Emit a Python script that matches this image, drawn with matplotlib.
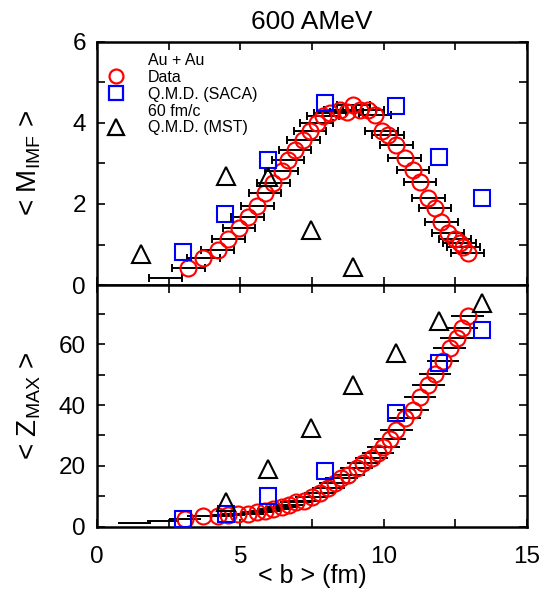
import matplotlib
matplotlib.use("Agg")
import matplotlib.pyplot as plt
from matplotlib.lines import Line2D
from matplotlib.ticker import MultipleLocator

plt.rcParams['font.family'] = ['Liberation Sans', 'DejaVu Sans']
plt.rcParams['mathtext.fontset'] = 'custom'
plt.rcParams['mathtext.rm'] = 'Liberation Sans'
plt.rcParams['mathtext.it'] = 'Liberation Sans:italic'

# -------------------------------
# Data: <M_IMF> vs <b>
# -------------------------------
b_imf = [3.19, 3.71, 4.21, 4.58, 4.95, 5.26, 5.59, 5.86, 6.15, 6.44, 6.67, 6.91,
         7.20, 7.43, 7.66, 7.89, 8.13, 8.48, 8.71, 8.94, 9.17, 9.46, 9.70, 9.93,
         10.16, 10.45, 10.74, 11.03, 11.27, 11.56, 11.79, 12.02, 12.25, 12.49,
         12.66, 12.78, 12.93]
m_imf = [0.43, 0.67, 0.86, 1.13, 1.40, 1.69, 1.95, 2.26, 2.53, 2.82, 3.09, 3.33,
         3.58, 3.81, 3.99, 4.16, 4.24, 4.32, 4.28, 4.44, 4.32, 4.32, 4.20, 3.79,
         3.70, 3.46, 3.13, 2.84, 2.55, 2.14, 1.89, 1.56, 1.28, 1.13,
         1.03, 0.95, 0.80]
b_imf_extra = [2.4]
m_imf_extra = [0.18]

b_qmd = [2.99, 4.47, 5.98, 7.95, 10.45, 11.93, 13.42]
m_saca = [0.82, 1.75, 3.09, 4.49, 4.42, 3.15, 2.16]
b_mst = [1.52, 4.50, 5.98, 7.46, 8.94]
m_mst = [0.77, 2.69, 2.67, 1.37, 0.44]

# -------------------------------
# Data: <Z_MAX> vs <b>
# -------------------------------
b_z = [3.07, 3.71, 4.21, 4.58, 4.93, 5.26, 5.59, 5.86, 6.15, 6.44, 6.70, 6.96,
       7.23, 7.49, 7.78, 8.07, 8.30, 8.53, 8.77, 9.06, 9.29, 9.58, 9.81, 9.99,
       10.22, 10.45, 10.74, 11.03, 11.27, 11.56, 11.79, 12.08, 12.31, 12.55,
       12.74, 12.93]
z_max = [2.5, 3.6, 3.5, 3.8, 4.0, 4.3, 4.9, 5.2, 5.8, 6.3, 7.1, 8.0,
         8.4, 9.8, 10.9, 12.8, 14.2, 15.9, 17.0, 19.2, 20.8, 22.5, 24.1, 26.3,
         28.8, 31.8, 35.6, 38.4, 42.8, 46.6, 50.1, 54.5, 58.9, 62.0,
         65.5, 69.4]
b_z_extra = [1.3, 2.3]
z_extra = [1.3, 1.9]

b_zsaca = [2.99, 4.49, 5.98, 7.95, 10.45, 11.93, 13.42]
z_saca = [2.5, 4.3, 10.0, 18.4, 37.5, 53.8, 64.7]
b_zmst = [4.49, 5.98, 7.46, 8.94, 10.45, 11.93, 13.42]
z_mst = [8.2, 18.8, 32.5, 46.6, 57.0, 67.7, 73.5]

B_ERR = 0.57


def style_axes(ax):
    ax.tick_params(which='both', direction='in', top=True, right=True,
                   length=6, width=1.2, labelsize=17.5)
    ax.tick_params(axis='y', which='both', pad=8)
    ax.tick_params(axis='x', which='both', pad=14)
    for sp in ax.spines.values():
        sp.set_linewidth(1.8)
    ax.set_xlim(0, 15)
    ax.xaxis.set_major_locator(MultipleLocator(5))
    ax.xaxis.set_minor_locator(MultipleLocator(2.5))


def draw_series(ax, bx, by, bx_extra, by_extra, caps):
    ax.errorbar(bx + bx_extra, by + by_extra, xerr=B_ERR, fmt='none',
                ecolor='black', elinewidth=1.4, capsize=caps, capthick=1.4,
                zorder=2)
    ax.plot(bx, by, 'o', ms=11.5, mfc='none', mec='red', mew=1.5, zorder=3)


fig = plt.figure(figsize=(5.42, 5.89), dpi=100)
ax1 = fig.add_axes([0.179, 0.516, 0.793, 0.413])
ax2 = fig.add_axes([0.179, 0.106, 0.793, 0.410])

# -------------------------------
# Top panel
# -------------------------------
draw_series(ax1, b_imf, m_imf, b_imf_extra, m_imf_extra, caps=3)
ax1.plot(b_qmd, m_saca, 's', ms=11.5, mfc='none', mec='blue', mew=1.5, zorder=4)
ax1.plot(b_mst, m_mst, '^', ms=12.5, mfc='none', mec='black', mew=1.5, zorder=4)
style_axes(ax1)
ax1.set_ylim(0, 6)
ax1.yaxis.set_major_locator(MultipleLocator(2))
ax1.yaxis.set_minor_locator(MultipleLocator(1))
ax1.tick_params(labelbottom=False)
ax1.set_ylabel(r'< M$_{\mathregular{IMF}}$ >', fontsize=20)
ax1.yaxis.set_label_coords(-0.125, 0.5)
ax1.set_title('600 AMeV', fontsize=19, pad=9)

blank = Line2D([], [], linestyle='none')
handles = [blank,
           Line2D([], [], linestyle='none', marker='o', ms=10, mfc='none',
                  mec='red', mew=1.6),
           Line2D([], [], linestyle='none', marker='s', ms=10, mfc='none',
                  mec='blue', mew=1.6),
           blank,
           Line2D([], [], linestyle='none', marker='^', ms=11, mfc='none',
                  mec='black', mew=1.6)]
labels = ['Au + Au', 'Data', 'Q.M.D. (SACA)', '60 fm/c', 'Q.M.D. (MST)']
ax1.legend(handles, labels, loc='upper left', bbox_to_anchor=(0.0, 0.955),
           frameon=False, fontsize=11.5, handlelength=2.4, handletextpad=0.8,
           borderpad=0, borderaxespad=0, labelspacing=0.12)

# -------------------------------
# Bottom panel
# -------------------------------
draw_series(ax2, b_z, z_max, b_z_extra, z_extra, caps=0)
ax2.plot(b_zsaca, z_saca, 's', ms=11.5, mfc='none', mec='blue', mew=1.5, zorder=4)
ax2.plot(b_zmst, z_mst, '^', ms=12.5, mfc='none', mec='black', mew=1.5, zorder=4)
style_axes(ax2)
ax2.set_ylim(0, 79.5)
ax2.yaxis.set_major_locator(MultipleLocator(20))
ax2.yaxis.set_minor_locator(MultipleLocator(10))
ax2.set_ylabel(r'< Z$_{\mathregular{MAX}}$ >', fontsize=20)
ax2.yaxis.set_label_coords(-0.125, 0.5)
ax2.set_xlabel('< b > (fm)', fontsize=18, labelpad=-3)

fig.savefig('out.png', dpi=100)
